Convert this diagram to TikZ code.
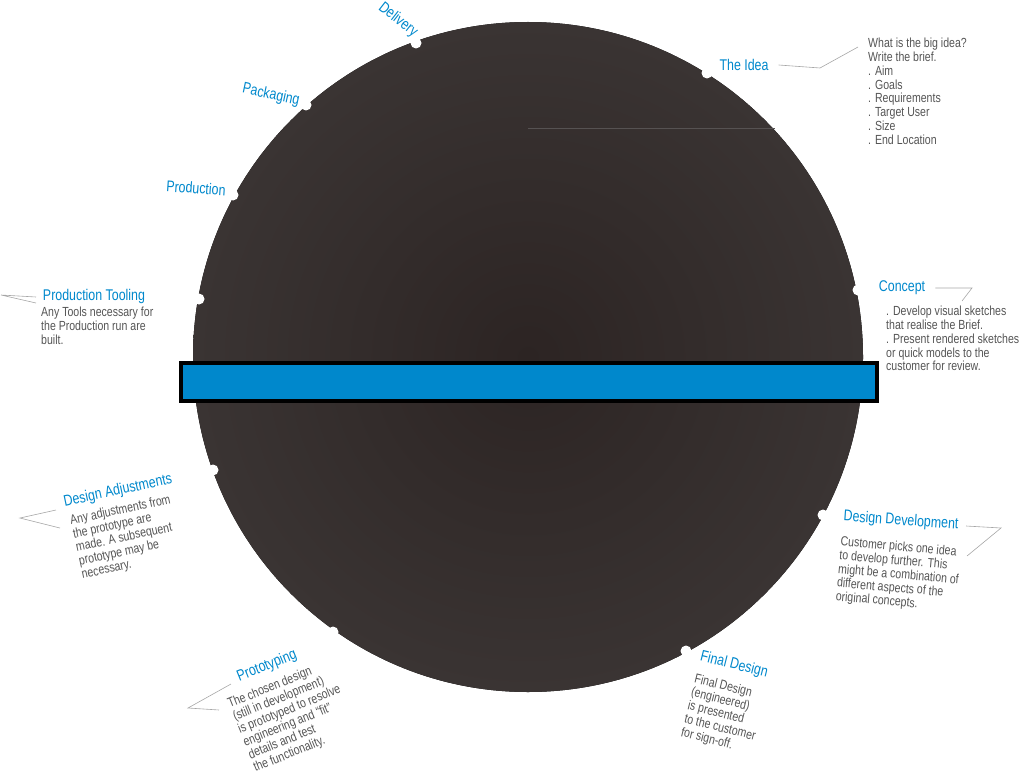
\documentclass[tikz,border=0pt]{standalone}
\usepackage{fontspec}
\setmainfont{Liberation Sans}[FakeStretch=0.8]
\begin{document}
\begin{tikzpicture}[x=1pt,y=-1pt,
  lbl/.style={text=blueL,font=\fontsize{15.5}{18}\selectfont,inner sep=0pt},
  body/.style={text=grayT,font=\fontsize{13.2}{13.8}\selectfont,align=left,inner sep=0pt,anchor=north west},
  dot/.style={circle,fill=white,inner sep=0pt,minimum size=11pt},
  lead/.style={draw=gray!70,line width=0.6pt}]
\definecolor{blueL}{RGB}{0,136,204}
\definecolor{grayT}{RGB}{85,85,85}
\definecolor{disk}{RGB}{58,52,51}
\definecolor{diskc}{RGB}{44,36,35}
\useasboundingbox (0,0) rectangle (1024,778);
\fill[inner color=diskc,outer color=disk] (528,357) circle (335);
\draw[gray!40!disk,line width=0.6pt] (528,128) -- (775,128);
\node[draw=black,line width=4pt,fill=blueL,minimum width=696pt,minimum height=38pt,inner sep=0pt] (bar) at (529,382) {};
% dots
\node[dot] (d1) at (416,43) {};
\node[dot] (d2) at (707,73) {};
\node[dot] (d3) at (858,290) {};
\node[dot] (d4) at (823,515) {};
\node[dot] (d5) at (686,651) {};
\node[dot] (d6) at (333,632) {};
\node[dot] (d7) at (213,470) {};
\node[dot] (d8) at (199,299) {};
\node[dot] (d9) at (233,195) {};
\node[dot] (d10) at (306,105) {};
% labels
\node[lbl,rotate=-38] (l1) at (398,20) {Delivery};
\node[lbl] (l2) at (744,65) {The Idea};
\node[lbl,rotate=-12] (l10) at (271,95) {Packaging};
\node[lbl,rotate=-4] (l9) at (196,188) {Production};
\node[lbl] (l8) at (94,296) {Production Tooling};
\node[lbl] (l3) at (902,288) {Concept};
\node[lbl,rotate=12] (l7) at (118,491) {Design Adjustments};
\node[lbl,rotate=-4] (l4) at (901,521) {Design Development};
\node[lbl,rotate=22] (l6) at (267,666) {Prototyping};
\node[lbl,rotate=-14] (l5) at (734,665) {Final Design};
% bodies
\node[body] (b2) at (868,38) {What is the big idea?\\Write the brief.\\. Aim\\. Goals\\. Requirements\\. Target User\\. Size\\. End Location};
\node[body] (b3) at (886,306) {. Develop visual sketches\\that realise the Brief.\\. Present rendered sketches\\or quick models to the\\customer for review.};
\node[body] (b8) at (41,307) {Any Tools necessary for\\the Production run are\\built.};
\node[body,rotate=12] (b7) at (69,515) {Any adjustments from\\the prototype are\\made. A subsequent\\prototype may be\\necessary.};
\node[body,rotate=-5] (b4) at (841,536) {Customer picks one idea\\to develop further. This\\might be a combination of\\different aspects of the\\original concepts.};
\node[body,rotate=-14] (b5) at (696,673) {Final Design\\(engineered)\\is presented\\to the customer\\for sign-off.};
\node[body,rotate=22] (b6) at (226,699) {The chosen design\\(still in development)\\is prototyped to resolve\\engineering and ``fit''\\details and test\\the functionality.};
% leaders
\coordinate (c2a) at (820,68); \coordinate (c2b) at (858,47);
\draw[lead] (l2.east)++(10,0) -- (c2a) -- (c2b);
\coordinate (c3a) at (972,288); \coordinate (c3b) at (962,301);
\draw[lead] (l3.east)++(10,0) -- (c3a) -- (c3b);
\coordinate (c8a) at (1,295);
\draw[lead] (36,297) -- (c8a) -- (36,303);
\coordinate (c7a) at (20,518);
\draw[lead] (56,510) -- (c7a) -- (60,528);
\coordinate (c6a) at (188,708);
\draw[lead] (231,684) -- (c6a) -- (219,710);
\coordinate (c4a) at (1001,528);
\draw[lead] (966,526) -- (c4a) -- (967,556);
\end{tikzpicture}
\end{document}
